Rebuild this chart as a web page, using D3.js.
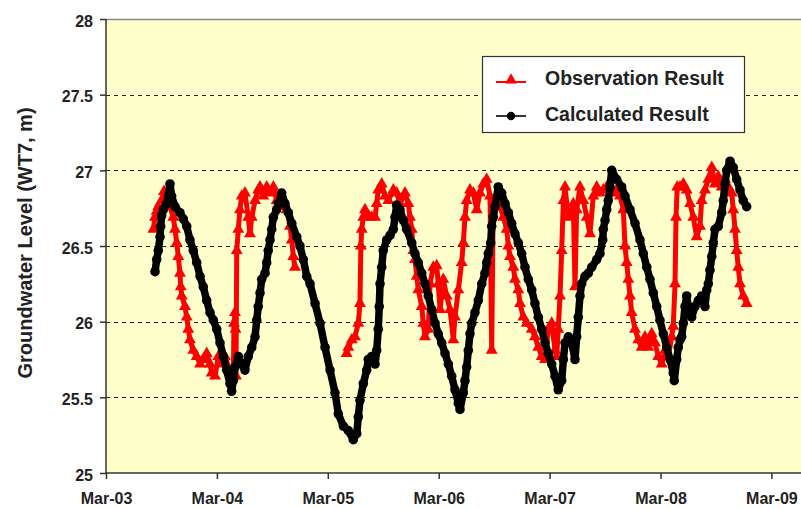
<!DOCTYPE html>
<html><head><meta charset="utf-8">
<script src="https://cdn.jsdelivr.net/npm/d3@7"></script>
<style>body{margin:0;background:#fff;} svg{display:block;font-family:"Liberation Sans",Arial,sans-serif;}</style>
</head><body><svg id="c" width="801" height="509"></svg>
<script>
// time in decimal years, level in m
const observation = [
[2003.589,26.61],[2003.604,26.69],[2003.619,26.73],[2003.634,26.76],[2003.649,26.78],[2003.664,26.80],[2003.685,26.86],[2003.709,26.78],[2003.739,26.76],[2003.769,26.69],[2003.784,26.61],[2003.800,26.52],[2003.814,26.43],[2003.829,26.32],[2003.836,26.23],[2003.845,26.17],[2003.874,26.10],[2003.890,26.03],[2003.904,25.95],[2003.919,25.88],[2003.949,25.81],[2003.980,25.77],[2004.010,25.72],[2004.039,25.75],[2004.070,25.79],[2004.100,25.72],[2004.115,25.66],[2004.145,25.64],[2004.175,25.77],[2004.205,25.72],[2004.235,25.77],[2004.265,25.70],[2004.295,25.66],[2004.310,25.64],[2004.316,25.99],[2004.325,26.06],[2004.330,25.95],[2004.334,25.64],[2004.341,26.47],[2004.355,26.61],[2004.370,26.74],[2004.386,26.83],[2004.415,26.85],[2004.445,26.69],[2004.460,26.58],[2004.476,26.69],[2004.506,26.80],[2004.535,26.87],[2004.551,26.89],[2004.580,26.83],[2004.611,26.89],[2004.641,26.85],[2004.671,26.89],[2004.701,26.80],[2004.731,26.78],[2004.761,26.76],[2004.791,26.74],[2004.821,26.63],[2004.837,26.54],[2004.851,26.43],[2004.866,26.36],
[2005.100,null],
[2005.332,25.79],[2005.347,25.83],[2005.378,25.88],[2005.407,25.90],[2005.437,25.99],[2005.452,26.12],[2005.460,26.50],[2005.468,26.61],[2005.482,26.69],[2005.497,26.74],[2005.527,26.70],[2005.558,26.69],[2005.588,26.69],[2005.603,26.78],[2005.617,26.87],[2005.648,26.91],[2005.678,26.83],[2005.708,26.80],[2005.753,26.87],[2005.783,26.85],[2005.813,26.78],[2005.858,26.85],[2005.888,26.78],[2005.903,26.69],[2005.919,26.61],[2005.933,26.47],[2005.948,26.41],[2005.964,26.30],[2005.978,26.21],[2006.009,26.10],[2006.023,25.99],[2006.038,25.90],[2006.068,25.95],[2006.084,26.25],[2006.113,26.36],[2006.144,26.37],[2006.158,26.25],[2006.174,26.08],[2006.203,26.28],[2006.234,26.17],[2006.264,26.08],[2006.294,25.88],[2006.309,26.03],[2006.339,26.21],[2006.369,26.39],[2006.384,26.52],[2006.399,26.69],[2006.414,26.80],[2006.444,26.87],[2006.474,26.85],[2006.505,26.74],[2006.534,26.85],[2006.564,26.91],[2006.595,26.94],[2006.625,26.83],[2006.640,25.81],[2006.654,26.80],[2006.685,26.78],[2006.715,26.76],[2006.745,26.69],[2006.775,26.61],[2006.790,26.50],[2006.805,26.43],[2006.835,26.36],[2006.850,26.28],[2006.880,26.21],[2006.895,26.12],[2006.925,26.03],[2006.956,25.99],[2007.001,25.95],[2007.030,25.90],[2007.060,25.83],[2007.091,25.77],[2007.121,25.75],[2007.150,25.95],[2007.181,25.99],[2007.211,25.81],[2007.226,25.77],[2007.240,25.95],[2007.256,26.17],[2007.271,26.47],[2007.286,26.80],[2007.301,26.89],[2007.331,26.69],[2007.361,26.72],[2007.376,26.78],[2007.391,26.23],[2007.406,26.74],[2007.436,26.89],[2007.466,26.80],[2007.497,26.69],[2007.526,26.58],[2007.556,26.83],[2007.587,26.89],[2007.616,26.85],[2007.646,26.87],[2007.677,26.89],[2007.722,26.85],[2007.767,26.87],[2007.797,26.83],[2007.827,26.74],[2007.842,26.50],[2007.857,26.39],[2007.872,26.28],[2007.887,26.17],[2007.902,26.06],[2007.932,25.95],[2007.962,25.88],[2007.992,25.83],[2008.022,25.90],[2008.052,25.83],[2008.083,25.92],[2008.112,25.86],[2008.142,25.77],[2008.173,25.72],[2008.203,25.81],[2008.232,25.77],[2008.263,25.90],[2008.277,25.97],[2008.293,26.25],[2008.302,26.69],[2008.313,26.89],[2008.338,26.89],[2008.368,26.91],[2008.398,26.87],[2008.428,26.78],[2008.458,26.69],[2008.488,26.56],[2008.518,26.63],[2008.533,26.80],[2008.563,26.87],[2008.593,26.94],[2008.624,27.02],[2008.653,26.91],[2008.683,26.96],[2008.714,26.89],[2008.744,26.94],[2008.773,26.89],[2008.804,26.85],[2008.818,26.74],[2008.834,26.61],[2008.849,26.47],[2008.863,26.36],[2008.879,26.25],[2008.908,26.17],[2008.939,26.12]
];
const calculated = [
[2003.604,26.33],[2003.619,26.41],[2003.634,26.47],[2003.649,26.56],[2003.655,26.63],[2003.664,26.70],[2003.679,26.74],[2003.709,26.78],[2003.739,26.91],[2003.754,26.83],[2003.784,26.76],[2003.829,26.72],[2003.859,26.68],[2003.890,26.63],[2003.919,26.54],[2003.949,26.47],[2003.980,26.39],[2004.010,26.30],[2004.039,26.23],[2004.070,26.14],[2004.100,26.06],[2004.130,26.01],[2004.160,25.95],[2004.190,25.86],[2004.220,25.77],[2004.250,25.68],[2004.280,25.59],[2004.295,25.54],[2004.310,25.61],[2004.325,25.70],[2004.355,25.77],[2004.386,25.72],[2004.415,25.68],[2004.445,25.77],[2004.476,25.83],[2004.506,25.90],[2004.521,26.01],[2004.535,26.10],[2004.551,26.19],[2004.566,26.28],[2004.596,26.32],[2004.611,26.39],[2004.625,26.47],[2004.641,26.54],[2004.656,26.61],[2004.671,26.69],[2004.701,26.74],[2004.716,26.78],[2004.746,26.85],[2004.776,26.78],[2004.806,26.72],[2004.837,26.65],[2004.882,26.56],[2004.911,26.50],[2004.941,26.41],[2004.972,26.30],[2005.002,26.25],[2005.047,26.12],[2005.092,25.99],[2005.137,25.83],[2005.182,25.68],[2005.227,25.53],[2005.257,25.39],[2005.302,25.31],[2005.347,25.28],[2005.392,25.22],[2005.423,25.26],[2005.437,25.37],[2005.452,25.48],[2005.482,25.59],[2005.513,25.68],[2005.527,25.75],[2005.558,25.77],[2005.588,25.72],[2005.603,25.81],[2005.617,25.95],[2005.626,26.10],[2005.633,26.25],[2005.648,26.36],[2005.662,26.47],[2005.693,26.54],[2005.723,26.57],[2005.753,26.61],[2005.768,26.69],[2005.783,26.77],[2005.813,26.74],[2005.843,26.67],[2005.873,26.61],[2005.919,26.52],[2005.948,26.45],[2005.978,26.39],[2006.009,26.32],[2006.038,26.25],[2006.068,26.17],[2006.099,26.08],[2006.129,25.99],[2006.158,25.92],[2006.189,25.86],[2006.219,25.79],[2006.249,25.72],[2006.279,25.64],[2006.309,25.55],[2006.339,25.46],[2006.354,25.42],[2006.384,25.53],[2006.399,25.61],[2006.414,25.70],[2006.429,25.81],[2006.444,25.92],[2006.460,25.99],[2006.489,26.06],[2006.519,26.14],[2006.550,26.25],[2006.579,26.32],[2006.595,26.39],[2006.609,26.45],[2006.631,26.52],[2006.640,26.63],[2006.654,26.69],[2006.670,26.76],[2006.699,26.89],[2006.730,26.85],[2006.760,26.78],[2006.790,26.72],[2006.820,26.65],[2006.850,26.58],[2006.880,26.52],[2006.910,26.45],[2006.940,26.36],[2006.970,26.28],[2007.001,26.21],[2007.030,26.12],[2007.060,26.03],[2007.091,25.95],[2007.121,25.86],[2007.150,25.79],[2007.181,25.72],[2007.211,25.64],[2007.240,25.55],[2007.271,25.61],[2007.286,25.75],[2007.301,25.86],[2007.331,25.90],[2007.361,25.86],[2007.391,25.75],[2007.406,25.90],[2007.421,26.03],[2007.436,26.17],[2007.451,26.25],[2007.481,26.30],[2007.511,26.32],[2007.542,26.36],[2007.587,26.41],[2007.616,26.45],[2007.641,26.54],[2007.646,26.61],[2007.662,26.67],[2007.677,26.74],[2007.691,26.80],[2007.707,26.89],[2007.722,27.00],[2007.767,26.94],[2007.812,26.89],[2007.842,26.83],[2007.887,26.74],[2007.932,26.65],[2007.977,26.54],[2008.007,26.45],[2008.038,26.36],[2008.067,26.28],[2008.097,26.19],[2008.128,26.10],[2008.157,26.01],[2008.187,25.92],[2008.218,25.83],[2008.248,25.75],[2008.277,25.66],[2008.286,25.61],[2008.308,25.75],[2008.322,25.83],[2008.338,25.88],[2008.353,25.90],[2008.368,25.99],[2008.383,26.10],[2008.398,26.17],[2008.413,26.10],[2008.443,26.03],[2008.473,26.10],[2008.503,26.14],[2008.533,26.17],[2008.563,26.10],[2008.579,26.21],[2008.593,26.25],[2008.608,26.34],[2008.624,26.43],[2008.638,26.52],[2008.653,26.61],[2008.683,26.63],[2008.714,26.72],[2008.728,26.80],[2008.744,26.91],[2008.759,27.00],[2008.789,27.06],[2008.818,27.02],[2008.849,26.94],[2008.879,26.87],[2008.908,26.80],[2008.939,26.76]
];
const seriesNames = ["Observation Result", "Calculated Result"];
const yTicks = [25, 25.5, 26, 26.5, 27, 27.5, 28];
const yTickLabels = ["25", "25.5", "26", "26.5", "27", "27.5", "28"];
const xTicks = [2003.162, 2004.162, 2005.162, 2006.162, 2007.162, 2008.162, 2009.162];
const xTickLabels = ["Mar-03", "Mar-04", "Mar-05", "Mar-06", "Mar-07", "Mar-08", "Mar-09"];
const yTitle = "Groundwater Level (WT7, m)";

const svg = d3.select("#c");
const P = {left: 106, top: 19, right: 801, bottom: 473};
const x = d3.scaleLinear().domain([xTicks[0], xTicks[xTicks.length - 1]]).range([P.left, 771.4]);
const y = d3.scaleLinear().domain([yTicks[0], yTicks[yTicks.length - 1]]).range([P.bottom, P.top]);

svg.append("rect").attr("x", P.left).attr("y", P.top).attr("width", P.right - P.left)
  .attr("height", P.bottom - P.top).attr("fill", "#FFFFCC");
svg.append("line").attr("x1", P.left).attr("x2", P.right).attr("y1", P.top + 0.5).attr("y2", P.top + 0.5)
  .attr("stroke", "#8a8a8a").attr("stroke-width", 1.5);

// dashed gridlines
svg.append("g").selectAll("line").data(yTicks.slice(1, -1)).join("line")
  .attr("x1", P.left).attr("x2", P.right)
  .attr("y1", d => Math.round(y(d)) + 0.5).attr("y2", d => Math.round(y(d)) + 0.5)
  .attr("stroke", "#222").attr("stroke-width", 1).attr("stroke-dasharray", "4,4");

svg.append("clipPath").attr("id", "clip").append("rect")
  .attr("x", P.left).attr("y", P.top).attr("width", P.right - P.left).attr("height", P.bottom - P.top);

const line = d3.line().defined(d => d[1] != null).x(d => x(d[0])).y(d => y(d[1]));
const g = svg.append("g").attr("clip-path", "url(#clip)");

// observation
g.append("path").datum(observation).attr("d", line).attr("fill", "none")
  .attr("stroke", "#FF0000").attr("stroke-width", 5).attr("stroke-linejoin", "round");
g.append("g").selectAll("path").data(observation.filter(d => d[1] != null)).join("path")
  .attr("transform", d => `translate(${x(d[0])},${y(d[1])})`)
  .attr("d", d3.symbol(d3.symbolTriangle, 62)).attr("fill", "#FF0000");

// calculated
g.append("path").datum(calculated).attr("d", line).attr("fill", "none")
  .attr("stroke", "#000").attr("stroke-width", 7.5).attr("stroke-linejoin", "round").attr("stroke-linecap", "round");
g.append("g").selectAll("path").data(calculated).join("path")
  .attr("transform", d => `translate(${x(d[0])},${y(d[1])})`)
  .attr("d", d3.symbol(d3.symbolCircle, 72)).attr("fill", "#000");

// axes
const yAxis = svg.append("g").attr("transform", `translate(${P.left},0)`)
  .call(d3.axisLeft(y).tickValues(yTicks).tickFormat((d, i) => yTickLabels[i]).tickSize(6).tickSizeOuter(0));
yAxis.select(".domain").remove();
yAxis.selectAll(".tick line").attr("stroke", "#333").attr("stroke-width", 1.5);
yAxis.selectAll(".tick text").attr("x", -13).attr("dy", "0.45em")
  .attr("font-size", 16).attr("font-weight", "bold").attr("fill", "#222")
  .attr("font-family", "Liberation Sans, Arial, sans-serif");

const xAxis = svg.append("g").attr("transform", `translate(0,${P.bottom})`)
  .call(d3.axisBottom(x).tickValues(xTicks).tickFormat((d, i) => xTickLabels[i]).tickSize(6).tickSizeOuter(0));
xAxis.select(".domain").remove();
xAxis.selectAll(".tick line").attr("stroke", "#333").attr("stroke-width", 1.5);
xAxis.selectAll(".tick text").attr("y", 20).attr("dy", "0.71em")
  .attr("font-size", 16).attr("font-weight", "bold").attr("fill", "#222")
  .attr("font-family", "Liberation Sans, Arial, sans-serif");

svg.append("line").attr("x1", P.left).attr("x2", P.left).attr("y1", P.top).attr("y2", P.bottom)
  .attr("stroke", "#333").attr("stroke-width", 1.5);
svg.append("line").attr("x1", P.left).attr("x2", P.right).attr("y1", P.bottom).attr("y2", P.bottom)
  .attr("stroke", "#333").attr("stroke-width", 1.5);

// y title
svg.append("text").attr("transform", `translate(32,${(P.top + P.bottom) / 2 - 3}) rotate(-90)`)
  .attr("text-anchor", "middle").attr("font-size", 20).attr("font-weight", "bold").attr("fill", "#222")
  .text(yTitle);

// legend
const L = svg.append("g");
L.append("rect").attr("x", 482.5).attr("y", 56.5).attr("width", 262).attr("height", 76)
  .attr("fill", "#fff").attr("stroke", "#333").attr("stroke-width", 1.2);
const items = [
  {name: seriesNames[0], color: "#FF0000", sym: d3.symbolTriangle, size: 60, ly: 82, ty: 85},
  {name: seriesNames[1], color: "#333", sym: d3.symbolCircle, size: 55, ly: 116, ty: 121}
];
items.forEach((it, i) => {
  L.append("line").attr("x1", 496).attr("x2", 526).attr("y1", it.ly).attr("y2", it.ly)
    .attr("stroke", it.color).attr("stroke-width", 2);
  L.append("path").attr("transform", `translate(511,${it.ly - (i === 0 ? 2 : 0)})`)
    .attr("d", d3.symbol(it.sym, it.size)).attr("fill", i === 0 ? "#FF0000" : "#000");
  L.append("text").attr("x", 545).attr("y", it.ty).attr("font-size", 19.5).attr("font-weight", "bold")
    .attr("fill", "#222").text(it.name);
});
</script></body></html>
